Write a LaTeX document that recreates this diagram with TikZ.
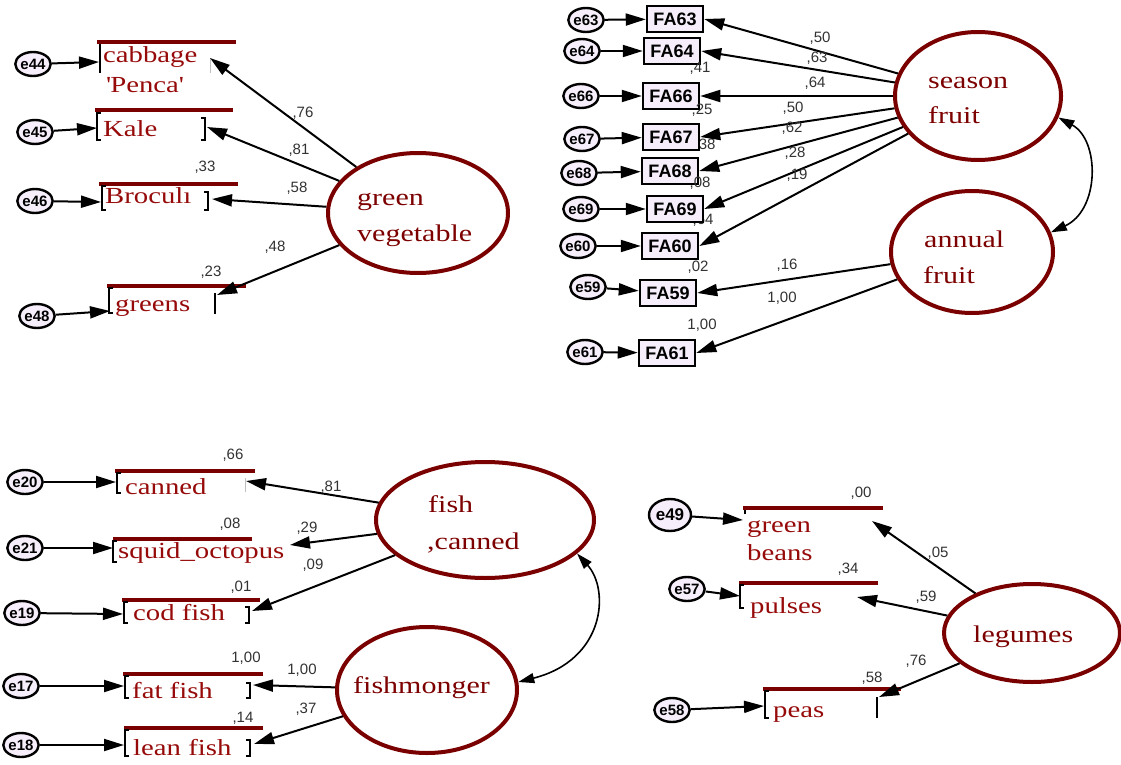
\documentclass[tikz,border=0pt]{standalone}
\usepackage{fontspec}
\newfontfamily\serf[FakeStretch=1.25]{Liberation Serif}
\newfontfamily\sansf{Liberation Sans}
\usetikzlibrary{shapes.geometric,arrows.meta}
\definecolor{maroonc}{RGB}{122,0,0}
\definecolor{itemc}{RGB}{150,10,10}
\definecolor{latc}{RGB}{125,0,0}
\definecolor{lav}{RGB}{246,238,250}
\definecolor{numc}{RGB}{50,50,50}
\newcommand{\lbrk}[3]{\draw[brk] ({#1+4},#2) -- (#1,#2) -- (#1,#3) -- ({#1+4},#3);}
\newcommand{\rbrk}[3]{\draw[brk] ({#1-4},#2) -- (#1,#2) -- (#1,#3) -- ({#1-4},#3);}
\begin{document}
\begin{tikzpicture}[x=1pt,y=-1pt,
 lat/.style={ellipse,draw=maroonc,line width=4pt,inner sep=0pt},
 lattext/.style={anchor=base west,inner sep=0pt,text=latc,font=\serf\fontsize{24}{30}\selectfont},
 errc/.style={ellipse,draw=black,line width=2.4pt,fill=lav,minimum width=34pt,minimum height=24pt,inner sep=0pt,font=\sansf\bfseries\fontsize{15}{15}\selectfont},
 fabox/.style={rectangle,draw=black,line width=2.5pt,fill=lav,minimum width=56pt,minimum height=26pt,inner sep=0pt,font=\sansf\bfseries\fontsize{18}{18}\selectfont},
 itemtxt/.style={anchor=base west,inner sep=0pt,text=itemc,font=\serf\fontsize{23}{28}\selectfont},
 num/.style={inner sep=0pt,text=numc,font=\sansf\fontsize{15}{15}\selectfont},
 topbar/.style={draw=maroonc,line width=4pt},
 brk/.style={draw=black,line width=2pt},
 reg/.style={-{Triangle[length=20pt,width=12pt]},line width=2pt},
 cov/.style={{Triangle[length=16pt,width=10pt]}-{Triangle[length=16pt,width=10pt]},line width=1.6pt},
]
\useasboundingbox (0,0) rectangle (1121,765);

% ---------------- green vegetable ----------------
\node[lat,minimum width=180pt,minimum height=120pt] (gv) at (418,213) {};
\node[lattext] (gvt1) at (357,205) {green};
\node[lattext] (gvt2) at (357,241) {vegetable};

\draw[topbar] (97,42) -- (236,42);
\draw[brk] (100,44) -- (100,73);
\draw[gray!50,line width=1pt] (210,58) -- (210,73);
\node[itemtxt] (cab1) at (103,63) {cabbage};
\node[itemtxt] (cab2) at (106,93) {\textquotesingle Penca\textquotesingle};
\coordinate (cabL) at (99,62); \coordinate (cabR) at (210,58);

\draw[topbar] (95,110) -- (233,110);
\lbrk{97}{113}{140} \rbrk{205}{118}{140}
\node[itemtxt] (kale) at (103,136) {Kale};
\coordinate (kaleL) at (97,128); \coordinate (kaleR) at (207,127);

\draw[topbar] (99,184) -- (238,184);
\lbrk{102}{186}{210} \rbrk{208}{192}{210}
\node[itemtxt] (broc) at (105,203) {Broculı};
\coordinate (brocL) at (101,202); \coordinate (brocR) at (212,199);

\draw[topbar] (107,286) -- (246,286);
\lbrk{109}{288}{313}
\draw[brk] (215,293) -- (215,314);
\node[itemtxt] (grns) at (115,311) {greens};
\coordinate (grnsL) at (110,311); \coordinate (grnsR) at (217,295);

\node[errc] (e44) at (33,64) {e44};
\node[errc] (e45) at (35,132) {e45};
\node[errc] (e46) at (35,201) {e46};
\node[errc] (e48) at (37,316) {e48};
\draw[reg] (e44) -- (cabL);
\draw[reg] (e45) -- (kaleL);
\draw[reg] (e46) -- (brocL);
\draw[reg] (e48) -- (grnsL);
\draw[reg] (gv) -- (cabR);
\draw[reg] (gv) -- (kaleR);
\draw[reg] (gv) -- (brocR);
\draw[reg] (gv) -- (grnsR);

\node[num] (n1) at (303,113) {,76};
\node[num] (n2) at (299,150) {,81};
\node[num] (n3) at (205,167) {,33};
\node[num] (n4) at (297,188) {,58};
\node[num] (n5) at (275,247) {,48};
\node[num] (n6) at (211,272) {,23};

% ---------------- season / annual fruit ----------------
\node[num] (t38) at (705,145) {,38};
\node[num] (t64b) at (703,220) {,64};

\node[lat,minimum width=166pt,minimum height=128pt] (sf) at (978,96) {};
\node[lattext] (sft1) at (928,89) {season};
\node[lattext] (sft2) at (928,124) {fruit};
\node[lat,minimum width=162pt,minimum height=122pt] (af) at (972,252) {};
\node[lattext] (aft1) at (924,247) {annual};
\node[lattext] (aft2) at (923,283) {fruit};

\node[fabox] (fa63) at (675,19) {FA63};
\node[fabox] (fa64) at (672,51) {FA64};
\node[fabox] (fa66) at (671,96) {FA66};
\node[fabox] (fa67) at (671,137) {FA67};
\node[fabox] (fa68) at (670,171) {FA68};
\node[fabox] (fa69) at (675,209) {FA69};
\node[fabox] (fa60) at (670,246) {FA60};
\node[fabox] (fa59) at (668,293) {FA59};
\node[fabox] (fa61) at (667,353) {FA61};

\node[errc] (e63) at (586,20) {e63};
\node[errc] (e64) at (582,51) {e64};
\node[errc] (e66) at (581,96) {e66};
\node[errc] (e67) at (582,139) {e67};
\node[errc] (e68) at (579,173) {e68};
\node[errc] (e69) at (581,209) {e69};
\node[errc] (e60) at (578,246) {e60};
\node[errc] (e59) at (588,287) {e59};
\node[errc] (e61) at (585,352) {e61};

\foreach \a in {63,64,66,67,68,69,60,59,61} {\draw[reg] (e\a) -- (fa\a);}
\foreach \a in {63,64,66,67,68,69,60} {\draw[reg] (sf) -- (fa\a.east);}
\draw[reg] (af) -- (fa59.east);
\draw[reg] (af) -- (fa61.east);
\draw[cov] (sf.-15) .. controls (1100,140) and (1100,210) .. (af.14);

\node[num] (t1) at (820,38) {,50};
\node[num] (t2) at (817,58) {,63};
\node[num] (t3) at (700,68) {,41};
\node[num] (t4) at (815,83) {,64};
\node[num] (t5) at (702,110) {,25};
\node[num] (t6) at (793,108) {,50};
\node[num] (t7) at (792,128) {,62};
\node[num] (t8) at (795,153) {,28};
\node[num] (t9) at (797,175) {,19};
\node[num] (t10) at (700,183) {,08};
\node[num] (t11) at (698,267) {,02};
\node[num] (t12) at (787,265) {,16};
\node[num] (t13) at (782,298) {1,00};
\node[num] (t14) at (702,325) {1,00};

% ---------------- fish ----------------
\node[lat,minimum width=218pt,minimum height=116pt] (fc) at (485,520) {};
\node[lattext] (fct1) at (428,512) {fish};
\node[lattext] (fct2) at (427,549) {,canned};
\node[lat,minimum width=180pt,minimum height=126pt] (fm) at (427,690) {};
\node[lattext] (fmt) at (353,693) {fishmonger};

\draw[topbar] (115,471) -- (255,471);
\lbrk{117}{473}{493}
\draw[gray!50,line width=1pt] (245,478) -- (245,492);
\node[itemtxt] (can) at (125,494) {canned};
\coordinate (canL) at (116,482); \coordinate (canR) at (246,481);

\draw[topbar] (113,539) -- (252,539);
\lbrk{113}{541}{562}
\node[itemtxt] (sq) at (118,558) {squid\_octopus};
\coordinate (sqL) at (113,548); \coordinate (sqR) at (290,545);

\draw[topbar] (122,600) -- (260,600);
\lbrk{124}{602}{623} \rbrk{249}{607}{623}
\node[itemtxt] (cod) at (133,620) {cod fish};
\coordinate (codL) at (123,614); \coordinate (codR) at (252,611);

\draw[topbar] (123,674) -- (263,674);
\lbrk{125}{676}{698} \rbrk{250}{683}{698}
\node[itemtxt] (fat) at (132,698) {fat fish};
\coordinate (fatL) at (124,686); \coordinate (fatR) at (253,685);

\draw[topbar] (124,728) -- (263,728);
\lbrk{125}{730}{756} \rbrk{250}{740}{756}
\node[itemtxt] (lean) at (133,755) {lean fish};
\coordinate (leanL) at (124,745); \coordinate (leanR) at (254,744);

\node[errc] (e20) at (25,482) {e20};
\node[errc] (e21) at (25,548) {e21};
\node[errc] (e19) at (22,613) {e19};
\node[errc] (e17) at (21,686) {e17};
\node[errc] (e18) at (21,745) {e18};
\draw[reg] (e20) -- (canL);
\draw[reg] (e21) -- (sqL);
\draw[reg] (e19) -- (codL);
\draw[reg] (e17) -- (fatL);
\draw[reg] (e18) -- (leanL);
\draw[reg] (fc) -- (canR);
\draw[reg] (fc) -- (sqR);
\draw[reg] (fc) -- (codR);
\draw[reg] (fm) -- (fatR);
\draw[reg] (fm) -- (leanR);
\draw[cov] (fc.-20) .. controls (610,590) and (605,660) .. (fm.5);

\node[num] (b1) at (233,455) {,66};
\node[num] (b2) at (230,524) {,08};
\node[num] (b3) at (241,587) {,01};
\node[num] (b4) at (246,658) {1,00};
\node[num] (b5) at (243,718) {,14};
\node[num] (b6) at (331,487) {,81};
\node[num] (b7) at (307,528) {,29};
\node[num] (b8) at (313,565) {,09};
\node[num] (b9) at (302,670) {1,00};
\node[num] (b10) at (306,709) {,37};

% ---------------- legumes ----------------
\node[lat,minimum width=176pt,minimum height=98pt] (lg) at (1032,633) {};
\node[lattext] (lgt) at (973,642) {legumes};

\draw[topbar] (743,508) -- (883,508);
\draw[brk] (745,510) -- (745,514);
\node[itemtxt] (gb1) at (747,532) {green};
\node[itemtxt] (gb2) at (747,560) {beans};
\coordinate (gbL) at (743,520); \coordinate (gbR) at (872,521);

\draw[topbar] (739,583) -- (878,583);
\lbrk{740}{585}{608}
\node[itemtxt] (pul) at (750,613) {pulses};
\coordinate (pulL) at (740,596); \coordinate (pulR) at (857,597);

\draw[topbar] (763,689) -- (901,689);
\lbrk{765}{691}{718}
\draw[brk] (877,697) -- (877,718);
\node[itemtxt] (peas) at (773,717) {peas};
\coordinate (peasL) at (764,706); \coordinate (peasR) at (879,697);

\node[errc,minimum width=42pt,minimum height=32pt,font=\sansf\bfseries\fontsize{17}{17}\selectfont] (e49) at (670,515) {e49};
\node[errc] (e57) at (687,589) {e57};
\node[errc] (e58) at (672,710) {e58};
\draw[reg] (e49) -- (gbL);
\draw[reg] (e57) -- (pulL);
\draw[reg] (e58) -- (peasL);
\draw[reg] (lg) -- (gbR);
\draw[reg] (lg) -- (pulR);
\draw[reg] (lg) -- (peasR);

\node[num] (r1) at (861,493) {,00};
\node[num] (r2) at (938,553) {,05};
\node[num] (r3) at (848,569) {,34};
\node[num] (r4) at (926,597) {,59};
\node[num] (r5) at (916,661) {,76};
\node[num] (r6) at (872,678) {,58};
\end{tikzpicture}
\end{document}
